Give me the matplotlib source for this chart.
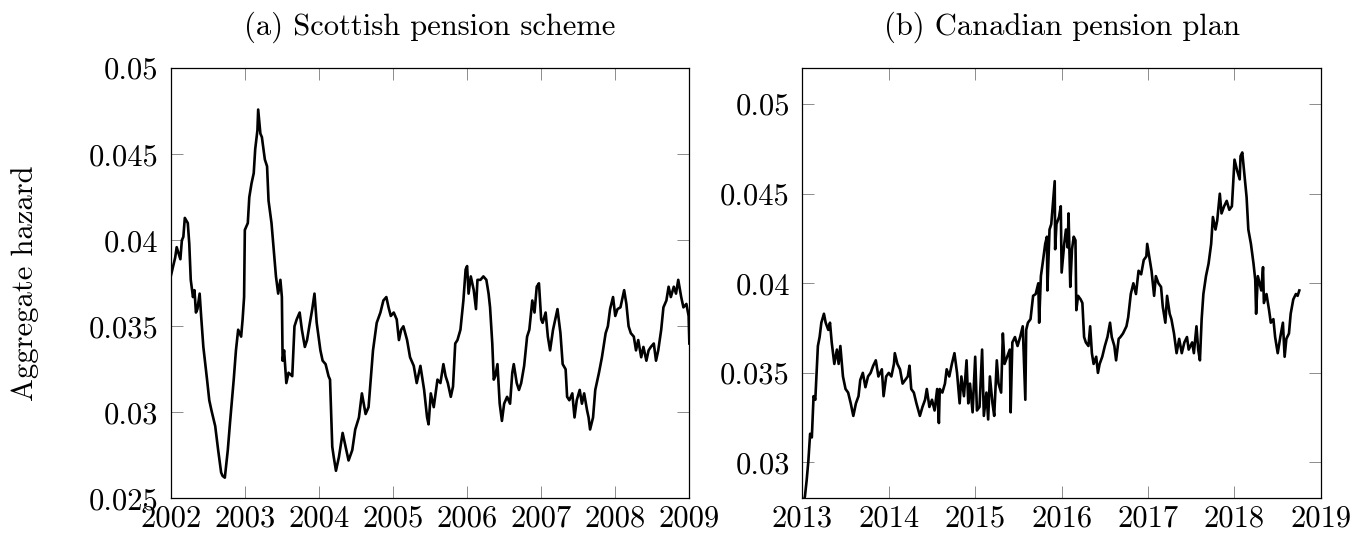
import matplotlib
matplotlib.use("Agg")
import matplotlib.pyplot as plt

plt.rcParams["font.family"] = ["cmr10", "DejaVu Serif"]
plt.rcParams["axes.formatter.use_mathtext"] = True

# (a) Scottish pension scheme
scot_year = [
    2002.00, 2002.06, 2002.08, 2002.13, 2002.15, 2002.17, 2002.19, 2002.23, 2002.25, 2002.27,
    2002.30, 2002.32, 2002.34, 2002.36, 2002.39, 2002.41, 2002.44, 2002.49, 2002.52, 2002.55,
    2002.60, 2002.64, 2002.68, 2002.70, 2002.73, 2002.77, 2002.80, 2002.85, 2002.88, 2002.91,
    2002.95, 2002.97, 2002.99, 2003.00, 2003.04, 2003.06, 2003.09, 2003.12, 2003.14, 2003.17,
    2003.18, 2003.21, 2003.23, 2003.27, 2003.30, 2003.32, 2003.36, 2003.40, 2003.42, 2003.45,
    2003.48, 2003.50, 2003.51, 2003.53, 2003.56, 2003.59, 2003.64, 2003.67, 2003.70, 2003.74,
    2003.77, 2003.81, 2003.84, 2003.87, 2003.91, 2003.94, 2003.97, 2004.02, 2004.05, 2004.09,
    2004.13, 2004.15, 2004.18, 2004.20, 2004.23, 2004.27, 2004.32, 2004.36, 2004.40, 2004.45,
    2004.49, 2004.54, 2004.58, 2004.63, 2004.67, 2004.73, 2004.78, 2004.83, 2004.87, 2004.91,
    2004.94, 2004.97, 2005.01, 2005.05, 2005.08, 2005.11, 2005.14, 2005.19, 2005.23, 2005.28,
    2005.32, 2005.37, 2005.42, 2005.46, 2005.48, 2005.51, 2005.55, 2005.60, 2005.64, 2005.68,
    2005.71, 2005.74, 2005.78, 2005.81, 2005.84, 2005.87, 2005.91, 2005.95, 2005.98, 2006.00,
    2006.02, 2006.05, 2006.09, 2006.12, 2006.14, 2006.18, 2006.22, 2006.26, 2006.29, 2006.31,
    2006.34, 2006.36, 2006.38, 2006.41, 2006.44, 2006.47, 2006.50, 2006.54, 2006.58, 2006.61,
    2006.63, 2006.67, 2006.70, 2006.73, 2006.77, 2006.81, 2006.84, 2006.88, 2006.91, 2006.94,
    2006.97, 2007.00, 2007.02, 2007.06, 2007.09, 2007.12, 2007.16, 2007.19, 2007.22, 2007.26,
    2007.29, 2007.33, 2007.35, 2007.38, 2007.42, 2007.45, 2007.48, 2007.52, 2007.55, 2007.58,
    2007.62, 2007.64, 2007.66, 2007.70, 2007.73, 2007.78, 2007.82, 2007.87, 2007.90, 2007.93,
    2007.97, 2008.00, 2008.03, 2008.07, 2008.10, 2008.12, 2008.15, 2008.18, 2008.21, 2008.25,
    2008.28, 2008.31, 2008.35, 2008.38, 2008.42, 2008.45, 2008.48, 2008.52, 2008.55, 2008.58,
    2008.62, 2008.65, 2008.69, 2008.72, 2008.75, 2008.79, 2008.82, 2008.85, 2008.89, 2008.92,
    2008.96, 2008.99, 2009.00,
]
scot_hazard = [
    0.0379, 0.0390, 0.0396, 0.0389, 0.0400, 0.0402, 0.0413, 0.0410, 0.0398, 0.0377,
    0.0367, 0.0371, 0.0358, 0.0360, 0.0369, 0.0356, 0.0338, 0.0319, 0.0307, 0.0301,
    0.0292, 0.0278, 0.0265, 0.0263, 0.0262, 0.0278, 0.0294, 0.0319, 0.0336, 0.0348,
    0.0344, 0.0354, 0.0367, 0.0406, 0.0410, 0.0425, 0.0433, 0.0439, 0.0453, 0.0464,
    0.0476, 0.0462, 0.0460, 0.0447, 0.0443, 0.0423, 0.0410, 0.0389, 0.0379, 0.0369,
    0.0377, 0.0367, 0.0330, 0.0336, 0.0317, 0.0323, 0.0321, 0.0350, 0.0354, 0.0358,
    0.0348, 0.0338, 0.0342, 0.0350, 0.0360, 0.0369, 0.0352, 0.0336, 0.0330, 0.0328,
    0.0321, 0.0319, 0.0280, 0.0274, 0.0266, 0.0274, 0.0288, 0.0280, 0.0272, 0.0278,
    0.0290, 0.0297, 0.0311, 0.0299, 0.0303, 0.0336, 0.0352, 0.0358, 0.0365, 0.0367,
    0.0361, 0.0356, 0.0358, 0.0354, 0.0342, 0.0348, 0.0350, 0.0342, 0.0332, 0.0327,
    0.0317, 0.0327, 0.0313, 0.0297, 0.0293, 0.0311, 0.0303, 0.0319, 0.0317, 0.0328,
    0.0321, 0.0317, 0.0309, 0.0315, 0.0340, 0.0342, 0.0348, 0.0365, 0.0383, 0.0385,
    0.0369, 0.0379, 0.0371, 0.0360, 0.0377, 0.0377, 0.0379, 0.0377, 0.0369, 0.0361,
    0.0340, 0.0319, 0.0321, 0.0328, 0.0305, 0.0295, 0.0305, 0.0309, 0.0305, 0.0323,
    0.0328, 0.0317, 0.0313, 0.0317, 0.0327, 0.0344, 0.0348, 0.0365, 0.0358, 0.0373,
    0.0375, 0.0354, 0.0352, 0.0358, 0.0344, 0.0336, 0.0348, 0.0354, 0.0360, 0.0346,
    0.0328, 0.0325, 0.0309, 0.0307, 0.0311, 0.0297, 0.0307, 0.0313, 0.0305, 0.0311,
    0.0301, 0.0297, 0.0290, 0.0297, 0.0313, 0.0323, 0.0332, 0.0346, 0.0350, 0.0360,
    0.0367, 0.0356, 0.0360, 0.0361, 0.0367, 0.0371, 0.0363, 0.0350, 0.0346, 0.0344,
    0.0336, 0.0342, 0.0332, 0.0338, 0.0330, 0.0336, 0.0338, 0.0340, 0.0330, 0.0336,
    0.0348, 0.0361, 0.0365, 0.0373, 0.0367, 0.0373, 0.0369, 0.0377, 0.0367, 0.0361,
    0.0363, 0.0356, 0.0340,
]

# (b) Canadian pension plan
can_year = [
    2013.00, 2013.03, 2013.05, 2013.07, 2013.09, 2013.11, 2013.13, 2013.15, 2013.17, 2013.18,
    2013.20, 2013.22, 2013.25, 2013.27, 2013.30, 2013.32, 2013.34, 2013.37, 2013.40, 2013.42,
    2013.44, 2013.47, 2013.50, 2013.53, 2013.56, 2013.59, 2013.62, 2013.65, 2013.67, 2013.70,
    2013.73, 2013.76, 2013.79, 2013.82, 2013.85, 2013.88, 2013.92, 2013.94, 2013.97, 2014.00,
    2014.03, 2014.06, 2014.07, 2014.10, 2014.13, 2014.16, 2014.19, 2014.22, 2014.24, 2014.26,
    2014.29, 2014.32, 2014.36, 2014.39, 2014.42, 2014.44, 2014.47, 2014.50, 2014.53, 2014.56,
    2014.58, 2014.59, 2014.62, 2014.65, 2014.67, 2014.70, 2014.73, 2014.76, 2014.79, 2014.82,
    2014.84, 2014.87, 2014.90, 2014.92, 2014.94, 2014.97, 2015.00, 2015.02, 2015.05, 2015.08,
    2015.10, 2015.13, 2015.15, 2015.17, 2015.20, 2015.22, 2015.25, 2015.27, 2015.30, 2015.32,
    2015.34, 2015.37, 2015.40, 2015.41, 2015.43, 2015.46, 2015.49, 2015.52, 2015.55, 2015.58,
    2015.59, 2015.61, 2015.64, 2015.67, 2015.70, 2015.73, 2015.74, 2015.76, 2015.78, 2015.81,
    2015.83, 2015.835, 2015.86, 2015.88, 2015.90, 2015.92, 2015.925, 2015.94, 2015.97, 2015.99,
    2016.00, 2016.03, 2016.05, 2016.07, 2016.08, 2016.10, 2016.12, 2016.14, 2016.16, 2016.17,
    2016.19, 2016.22, 2016.24, 2016.26, 2016.28, 2016.31, 2016.33, 2016.35, 2016.37, 2016.40,
    2016.42, 2016.44, 2016.47, 2016.50, 2016.53, 2016.56, 2016.58, 2016.61, 2016.63, 2016.66,
    2016.68, 2016.71, 2016.75, 2016.77, 2016.80, 2016.83, 2016.86, 2016.89, 2016.92, 2016.95,
    2016.98, 2016.99, 2017.02, 2017.04, 2017.07, 2017.09, 2017.12, 2017.15, 2017.17, 2017.20,
    2017.22, 2017.25, 2017.27, 2017.30, 2017.33, 2017.36, 2017.39, 2017.42, 2017.45, 2017.47,
    2017.51, 2017.53, 2017.56, 2017.58, 2017.60, 2017.62, 2017.64, 2017.67, 2017.70, 2017.73,
    2017.75, 2017.78, 2017.80, 2017.83, 2017.85, 2017.88, 2017.91, 2017.94, 2017.97, 2018.00,
    2018.03, 2018.06, 2018.07, 2018.09, 2018.11, 2018.14, 2018.16, 2018.19, 2018.22, 2018.24,
    2018.25, 2018.27, 2018.29, 2018.31, 2018.33, 2018.34, 2018.37, 2018.40, 2018.42, 2018.45,
    2018.47, 2018.50, 2018.53, 2018.56, 2018.58, 2018.60, 2018.63, 2018.65, 2018.68, 2018.71,
    2018.73, 2018.75,
]
can_hazard = [
    0.0276, 0.0281, 0.0290, 0.0301, 0.0316, 0.0314, 0.0337, 0.0335, 0.0355, 0.0365,
    0.0370, 0.0378, 0.0383, 0.0378, 0.0374, 0.0378, 0.0367, 0.0355, 0.0363, 0.0355,
    0.0365, 0.0348, 0.0341, 0.0339, 0.0333, 0.0326, 0.0333, 0.0337, 0.0346, 0.0350,
    0.0342, 0.0348, 0.0350, 0.0354, 0.0357, 0.0348, 0.0352, 0.0337, 0.0348, 0.0350,
    0.0348, 0.0355, 0.0361, 0.0355, 0.0352, 0.0344, 0.0346, 0.0348, 0.0354, 0.0341,
    0.0339, 0.0333, 0.0326, 0.0331, 0.0335, 0.0341, 0.0331, 0.0335, 0.0329, 0.0341,
    0.0322, 0.0341, 0.0339, 0.0344, 0.0352, 0.0348, 0.0355, 0.0361, 0.0350, 0.0333,
    0.0348, 0.0337, 0.0357, 0.0333, 0.0344, 0.0328, 0.0359, 0.0329, 0.0331, 0.0363,
    0.0326, 0.0339, 0.0324, 0.0348, 0.0333, 0.0326, 0.0357, 0.0344, 0.0339, 0.0372,
    0.0355, 0.0359, 0.0363, 0.0328, 0.0367, 0.0370, 0.0365, 0.0370, 0.0376, 0.0335,
    0.0374, 0.0378, 0.0380, 0.0393, 0.0394, 0.0400, 0.0378, 0.0404, 0.0411, 0.0422,
    0.0426, 0.0396, 0.0430, 0.0433, 0.0445, 0.0457, 0.0419, 0.0433, 0.0437, 0.0443,
    0.0406, 0.0422, 0.0430, 0.0420, 0.0439, 0.0398, 0.0419, 0.0426, 0.0424, 0.0385,
    0.0393, 0.0391, 0.0389, 0.0370, 0.0367, 0.0365, 0.0376, 0.0361, 0.0355, 0.0359,
    0.0350, 0.0355, 0.0359, 0.0365, 0.0370, 0.0378, 0.0370, 0.0365, 0.0357, 0.0369,
    0.0370, 0.0372, 0.0376, 0.0381, 0.0394, 0.0400, 0.0394, 0.0407, 0.0405, 0.0413,
    0.0415, 0.0422, 0.0413, 0.0407, 0.0393, 0.0404, 0.0400, 0.0398, 0.0387, 0.0378,
    0.0393, 0.0383, 0.0380, 0.0372, 0.0361, 0.0369, 0.0361, 0.0367, 0.0370, 0.0363,
    0.0367, 0.0361, 0.0376, 0.0363, 0.0357, 0.0380, 0.0394, 0.0404, 0.0411, 0.0422,
    0.0437, 0.0430, 0.0435, 0.0450, 0.0439, 0.0443, 0.0446, 0.0441, 0.0443, 0.0469,
    0.0463, 0.0458, 0.0471, 0.0473, 0.0463, 0.0448, 0.0430, 0.0422, 0.0411, 0.0402,
    0.0383, 0.0404, 0.0400, 0.0396, 0.0409, 0.0389, 0.0394, 0.0385, 0.0378, 0.0380,
    0.0370, 0.0361, 0.0370, 0.0378, 0.0359, 0.0369, 0.0372, 0.0383, 0.0391, 0.0394,
    0.0393, 0.0396,
]

scot_xticks = [2002, 2003, 2004, 2005, 2006, 2007, 2008, 2009]
scot_yticks = [0.025, 0.03, 0.035, 0.04, 0.045, 0.05]
can_xticks = [2013, 2014, 2015, 2016, 2017, 2018, 2019]
can_yticks = [0.03, 0.035, 0.04, 0.045, 0.05]


def style_axes(ax, xticks, yticks, title):
    ax.set_xticks(xticks)
    ax.set_xticklabels([str(t) for t in xticks])
    ax.set_yticks(yticks)
    ax.set_yticklabels([f"{t:g}" for t in yticks])
    ax.tick_params(axis="both", direction="in", top=True, right=True,
                   length=8.4, width=0.7, color="0.55", labelsize=22)
    ax.tick_params(axis="y", pad=9)
    ax.tick_params(axis="x", pad=5)
    for sp in ax.spines.values():
        sp.set_linewidth(0.9)
    ax.set_title(title, fontsize=22, pad=24)


fig = plt.figure(figsize=(13.53, 5.33), dpi=100)
ax1 = fig.add_axes([0.1262, 0.0651, 0.3833, 0.8068])
ax2 = fig.add_axes([0.5930, 0.0651, 0.3833, 0.8068])

#scottish scheme
ax1.plot(scot_year, scot_hazard, color="black", lw=1.9)
ax1.set_xlim(2002, 2009)
ax1.set_ylim(0.025, 0.05)
style_axes(ax1, scot_xticks, scot_yticks, "(a) Scottish pension scheme")

#canadian plan
ax2.plot(can_year, can_hazard, color="black", lw=1.9)
ax2.set_xlim(2013, 2019)
ax2.set_ylim(0.028, 0.052)
style_axes(ax2, can_xticks, can_yticks, "(b) Canadian pension plan")

fig.text(25 / 1353, 0.4685, "Aggregate hazard", rotation=90,
         ha="center", va="center", fontsize=22)

fig.savefig("out.png", dpi=100)
